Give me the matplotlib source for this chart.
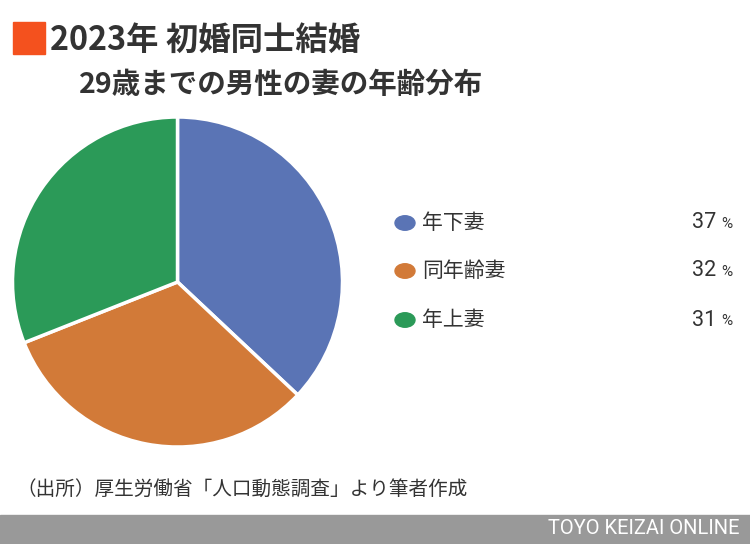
import matplotlib
matplotlib.use("Agg")
import matplotlib.pyplot as plt
from matplotlib.patches import Rectangle, Circle

plt.rcParams['font.family'] = ['Noto Sans CJK JP', 'DejaVu Sans']

categories = ['年下妻', '同年齢妻', '年上妻']
values = [37, 32, 31]
colors = ['#5a74b5', '#d27a38', '#2b9a58']
title = '2023年 初婚同士結婚'
subtitle = '29歳までの男性の妻の年齢分布'
source = '（出所）厚生労働省「人口動態調査」より筆者作成'
brand = 'TOYO KEIZAI ONLINE'

W, H = 750, 544
fig = plt.figure(figsize=(W / 100, H / 100), dpi=100)
fig.patch.set_facecolor('white')

def fx(x):
    return x / W

def fy(y):
    return 1 - y / H

# Pie
cx, cy, r = 177.5, 282, 165
ax = fig.add_axes([fx(cx - r), fy(cy + r), 2 * r / W, 2 * r / H])
ax.pie(values, colors=colors, startangle=90, counterclock=False,
       wedgeprops=dict(edgecolor='white', linewidth=2.5))
ax.set_xlim(-1, 1)
ax.set_ylim(-1, 1)
ax.set_aspect('auto')
ax.axis('off')

# Title
fig.patches.append(Rectangle((fx(13), fy(54)), 32 / W, 32 / H,
                             transform=fig.transFigure, color='#f4511e'))
fig.text(fx(50), fy(40), title, fontsize=23.3, fontweight='bold',
         color='#333333', va='center', ha='left')
fig.text(fx(79), fy(85), subtitle, fontsize=20.5, fontweight='bold',
         color='#333333', va='center', ha='left')

# Legend
ys = [223, 271, 320]
for cat, val, col, y in zip(categories, values, colors, ys):
    fig.patches.append(Circle((fx(405), fy(y)), 10 / W,
                              transform=fig.transFigure, color=col))
    fig.text(fx(422), fy(y), cat, fontsize=15, color='#333333',
             va='center', ha='left')
    fig.text(fx(716), fy(y), f'{val}', fontsize=15.5, color='#333333',
             va='center', ha='right', family=['Roboto', 'DejaVu Sans'])
    fig.text(fx(721), fy(y + 1), '%', fontsize=11, color='#333333',
             va='center', ha='left', family=['Roboto', 'DejaVu Sans'])

# Source
fig.text(fx(16), fy(489), source, fontsize=14.1, color='#333333',
         va='center', ha='left')

# Bottom bar
fig.patches.append(Rectangle((0, 0), 1, (544 - 515) / H,
                             transform=fig.transFigure, color='#999999'))
fig.text(fx(740), fy(529), brand, fontsize=14.5, color='white',
         va='center', ha='right',
         family=['Liberation Sans Narrow', 'Roboto', 'DejaVu Sans'])

fig.savefig('out.png', dpi=100, facecolor='white')
